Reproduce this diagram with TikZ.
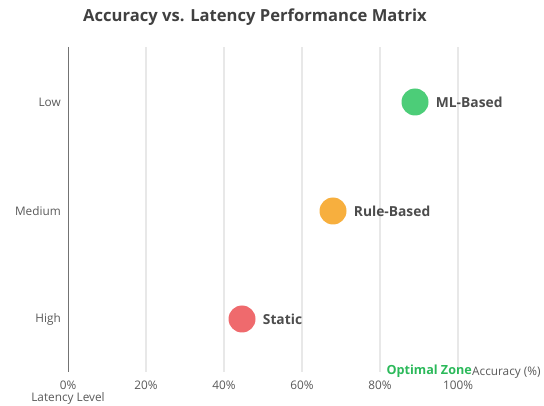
\documentclass[tikz,border=0pt]{standalone}
\usepackage{fontspec}
\setmainfont{Open Sans}
\begin{document}
\begin{tikzpicture}[x=1pt,y=-1pt,
  grid/.style={draw=gray!18,line width=1.1pt},
  axisline/.style={draw=black!55,line width=0.9pt},
  ticklbl/.style={text=black!65,font=\fontsize{11.8}{13}\selectfont,inner sep=0pt},
  dot/.style={circle,minimum size=27pt,inner sep=0pt},
  ptlbl/.style={text=black!70,font=\bfseries\fontsize{13.8}{16}\selectfont,anchor=west,inner sep=0pt}]
\useasboundingbox (0,0) rectangle (544,406);
\definecolor{mlgreen}{HTML}{4CCD78}
\definecolor{ruleorange}{HTML}{F7AF3E}
\definecolor{staticred}{HTML}{EF6A6D}
\definecolor{zonegreen}{HTML}{2BB95A}
% title
\node[text=black!75,font=\bfseries\fontsize{16.6}{19}\selectfont] (title) at (255,17) {Accuracy vs. Latency Performance Matrix};
% vertical grid lines
\foreach \i in {1,...,5} \draw[grid] (68+78*\i,47) -- (68+78*\i,372);
\draw[axisline] (68,47) -- (68,372);
% x tick labels
\foreach \i/\t in {0/0\%,1/20\%,2/40\%,3/60\%,4/80\%,5/100\%}
  \node[ticklbl] (xt\i) at (68+78*\i,385.5) {\t};
\node[ticklbl] (xtitle) at (68,398) {Latency Level};
\node[ticklbl,anchor=west] (ytitle) at (472,373) {Accuracy (\%)};
\node[text=zonegreen,font=\bfseries\fontsize{12.6}{14}\selectfont,anchor=east,inner sep=0pt] (zone) at (472,371) {Optimal Zone};
% y tick labels
\node[ticklbl,anchor=east] (low) at (61,102) {Low};
\node[ticklbl,anchor=east] (med) at (61,211) {Medium};
\node[ticklbl,anchor=east] (high) at (61,319) {High};
% data points
\node[dot,fill=mlgreen] (ml) at (415,102) {};
\node[ptlbl] at ([xshift=7pt]ml.east) {ML-Based};
\node[dot,fill=ruleorange] (rule) at (333,211) {};
\node[ptlbl] at ([xshift=7pt]rule.east) {Rule-Based};
\node[dot,fill=staticred] (static) at (242,319) {};
\node[ptlbl] at ([xshift=7pt]static.east) {Static};
\end{tikzpicture}
\end{document}
